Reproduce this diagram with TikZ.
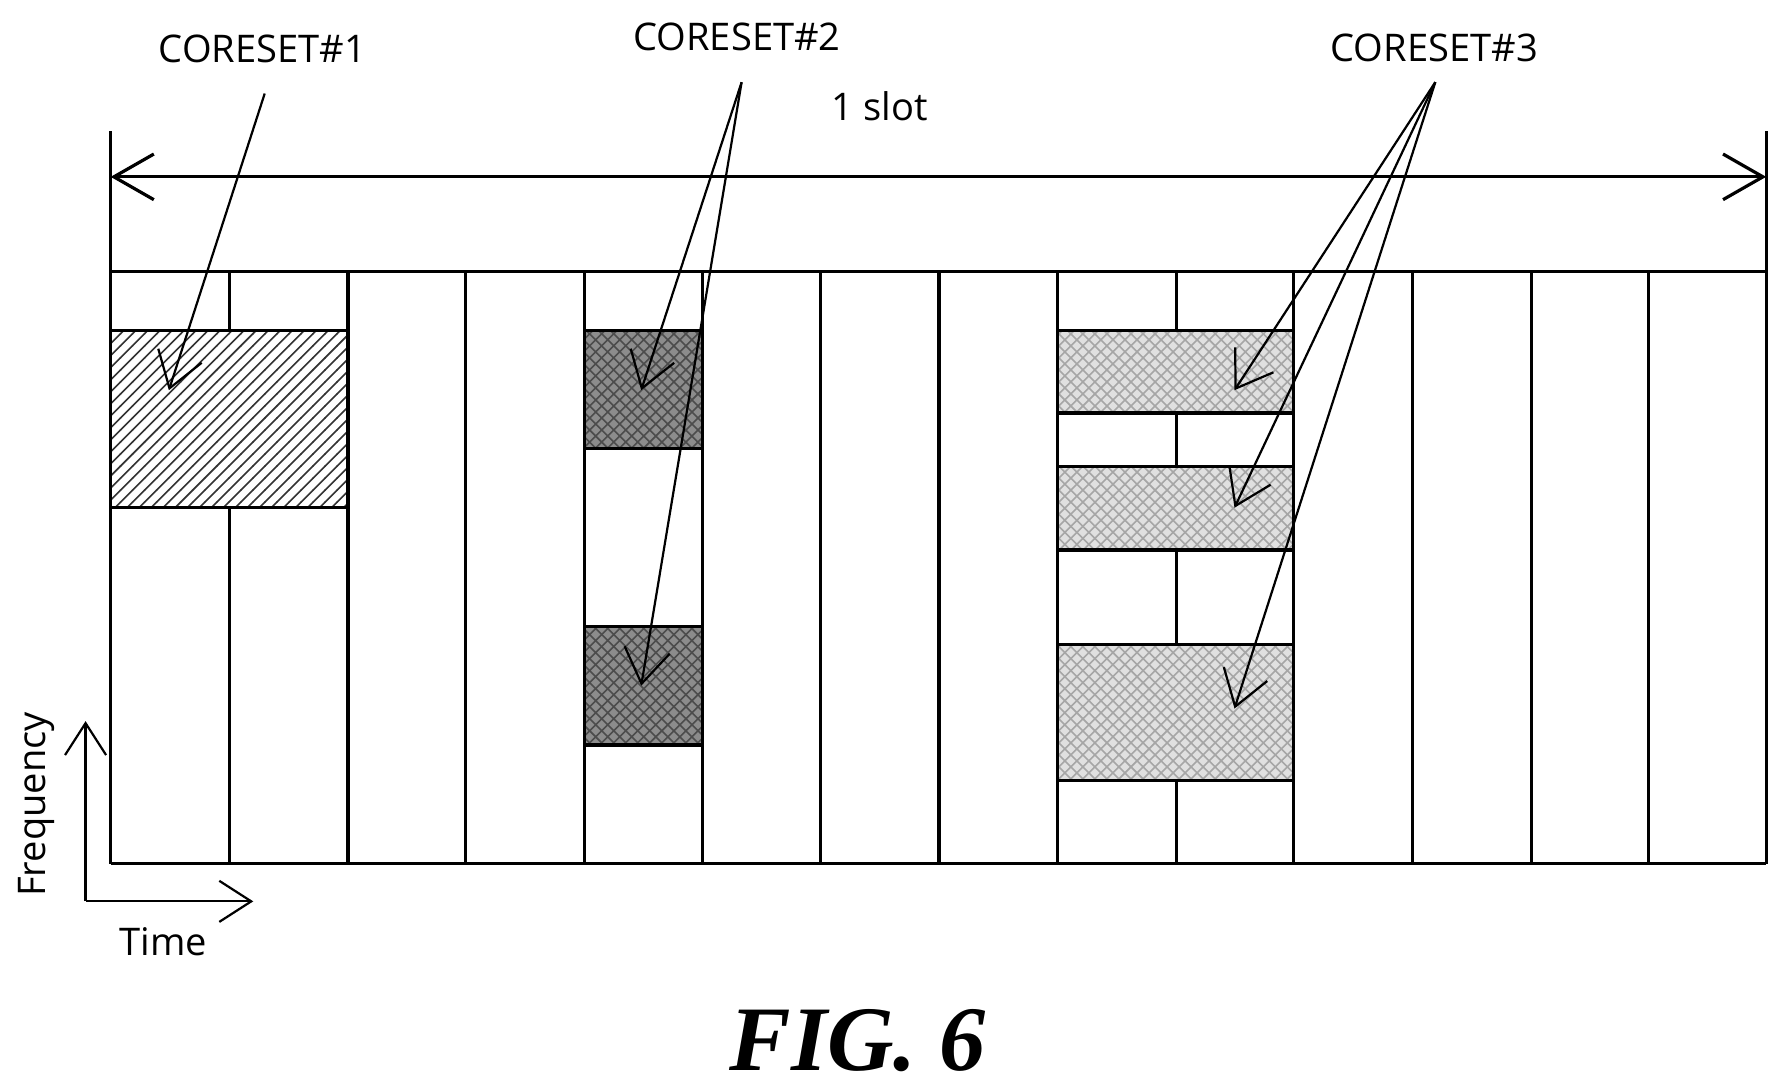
\documentclass[tikz,border=0pt]{standalone}
\usepackage{fontspec}
\setmainfont{Open Sans}
\newfontfamily\figfont{Liberation Serif}
\usetikzlibrary{patterns,arrows.meta}
\begin{document}
\begin{tikzpicture}[x=0.1mm,y=-0.1mm,
  ln/.style={line width=0.8pt},
  lbl/.style={font=\fontsize{9.5}{12}\selectfont},
  pt/.style={-{Straight Barb[length=3mm,width=4mm]},line width=0.55pt},
  c1/.style={pattern=north east lines,pattern color=black!80},
  c2/.style={fill=black!45,postaction={pattern=crosshatch,pattern color=black!70},postaction={draw,line width=0.8pt}},
  c3/.style={fill=black!12,postaction={pattern=crosshatch,pattern color=black!35},postaction={draw,line width=0.8pt}}]
\useasboundingbox (0,0) rectangle (1568,957);
% grid
\draw[ln] (97,238) -- (1548,238);
\draw[ln] (97,757) -- (1548,757);
\draw[ln] (97,115) -- (97,757);
\draw[ln] (1548,115) -- (1548,757);
\foreach \x in {201,305,408,512,616,719,823,927,1031,1134,1238,1342,1445}
  \draw[ln] (\x,238) -- (\x,757);
% coresets
\draw[ln,fill=white] (97,290) rectangle (305,445);
\draw[ln,c1] (97,290) rectangle (305,445);
\draw[ln,c2] (512,290) rectangle (616,393);
\draw[ln,c2] (512,549) rectangle (616,653);
\draw[ln,c3] (927,290) rectangle (1134,362);
\draw[ln,c3] (927,409) rectangle (1134,482);
\draw[ln,c3] (927,565) rectangle (1134,684);
% slot arrow
\coordinate (sL) at (97,155); \coordinate (sR) at (1548,155);
\draw[ln,{Straight Barb[length=3.5mm,width=4mm]}-{Straight Barb[length=3.5mm,width=4mm]}] (sL) -- (sR);
\node[lbl] (slot) at (771,93) {1 slot};
% labels
\node[lbl] (l1) at (230,43) {CORESET\#1};
\node[lbl] (l2) at (646,32) {CORESET\#2};
\node[lbl] (l3) at (1257,42) {CORESET\#3};
\coordinate (a1) at (232,82);
\coordinate (a2) at (650,72);
\coordinate (a3) at (1258,72);
\coordinate (t1) at (148,342);
\coordinate (t2a) at (562,342);
\coordinate (t2b) at (562,601);
\coordinate (t3a) at (1082,342);
\coordinate (t3b) at (1082,445);
\coordinate (t3c) at (1082,621);
\draw[pt] (a1) -- (t1);
\draw[pt] (a2) -- (t2a);
\draw[pt] (a2) -- (t2b);
\draw[pt] (a3) -- (t3a);
\draw[pt] (a3) -- (t3b);
\draw[pt] (a3) -- (t3c);
% axes
\coordinate (o) at (75,790);
\coordinate (fy) at (75,632);
\coordinate (tx) at (222,790);
\draw[line width=0.55pt,-{Straight Barb[length=2.8mm,width=3.6mm]}] (o) -- (fy);
\draw[line width=0.55pt,-{Straight Barb[length=2.8mm,width=3.6mm]}] (o) -- (tx);
\node[lbl,rotate=90] (freq) at (32,705) {Frequency};
\node[lbl] (time) at (143,825) {Time};
\node[font=\figfont\bfseries\itshape\fontsize{23}{28}\selectfont] (fig) at (752,912) {FIG. 6};
\end{tikzpicture}
\end{document}
